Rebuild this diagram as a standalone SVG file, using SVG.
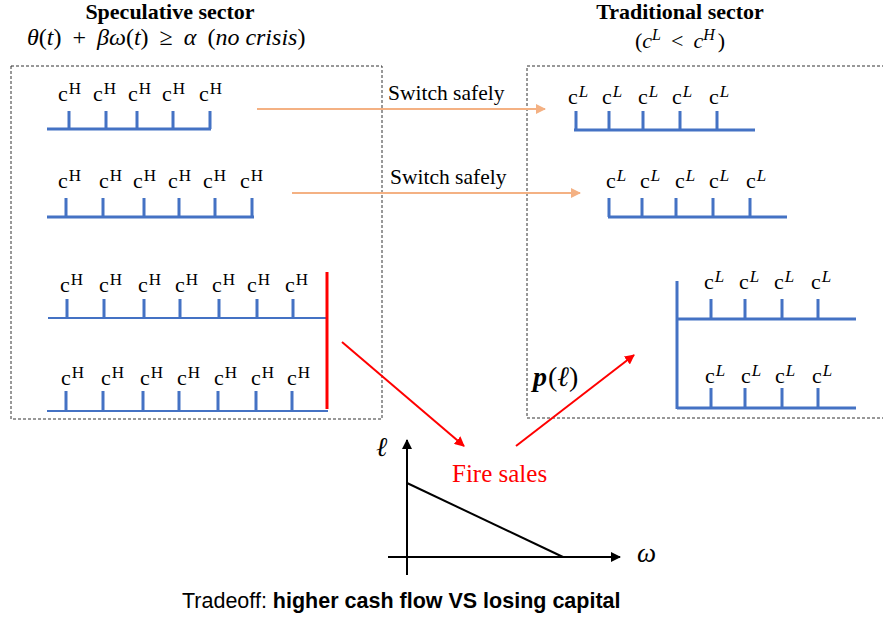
<svg xmlns="http://www.w3.org/2000/svg" width="883" height="625" viewBox="0 0 883 625">
<style>
.box{fill:none;stroke:#333;stroke-width:1;stroke-dasharray:3 2}
.blue{stroke:#4472C4;stroke-width:3;fill:none}
.lbl{font-family:"Liberation Serif",serif;font-size:22px;fill:#000}
.sup{font-size:17px}
.title{font-family:"Liberation Serif",serif;font-size:22px;font-weight:bold;fill:#000;text-anchor:middle}
.math{font-family:"Liberation Serif",serif;font-size:25px;fill:#000}
.sw{font-family:"Liberation Serif",serif;font-size:21.5px;fill:#000}
.orange{stroke:#F4B183;stroke-width:2;fill:none}
.red{stroke:#FF0000;stroke-width:2;fill:none}
.axis{stroke:#000;stroke-width:2;fill:none}
</style>
<defs>
<marker id="ao" viewBox="0 0 10 10" refX="9" refY="5" markerWidth="5" markerHeight="5" orient="auto"><path d="M0,0 L10,5 L0,10 z" fill="#F4B183"/></marker>
<marker id="ar" viewBox="0 0 10 10" refX="9" refY="5" markerWidth="5" markerHeight="5" orient="auto"><path d="M0,0 L10,5 L0,10 z" fill="#FF0000"/></marker>
<marker id="ak" viewBox="0 0 10 10" refX="9" refY="5" markerWidth="5" markerHeight="5" orient="auto"><path d="M0,0 L10,5 L0,10 z" fill="#000"/></marker>
</defs>

<g id="titles">
<text class="title" x="170" y="19">Speculative sector</text>
<text class="math" x="27" y="45" style="font-size:24px"><tspan font-style="italic">θ</tspan>(<tspan font-style="italic">t</tspan>)<tspan dx="11">+</tspan><tspan dx="11" font-style="italic">βω</tspan>(<tspan font-style="italic">t</tspan>)<tspan dx="11">≥</tspan><tspan dx="11" font-style="italic">α</tspan><tspan dx="11">(</tspan><tspan font-style="italic">no crisis</tspan>)</text>
<text class="title" x="680" y="19">Traditional sector</text>
<text class="math" x="635" y="48" style="font-size:22px">(<tspan font-style="italic">c</tspan><tspan font-style="italic" font-size="16" dy="-8">L</tspan><tspan dy="8" dx="10">&lt;</tspan><tspan dx="10" font-style="italic">c</tspan><tspan font-style="italic" font-size="16" dy="-8">H</tspan><tspan dy="8" dx="3">)</tspan></text>
</g>

<g id="speculative-box">
<rect class="box" x="11" y="66" width="371" height="353"/>
</g>
<g id="traditional-box">
<path class="box" d="M890,66 H527 V418 H890"/>
</g>

<g id="spec-row1">
<path class="blue" d="M47,129 H211 M69,111 V129 M106,111 V129 M137,111 V129 M173,111 V129 M210,111 V129"/>
<g class="lbl">
<text x="58" y="101">c<tspan class="sup" dy="-7" dx="1">H</tspan></text>
<text x="93" y="101">c<tspan class="sup" dy="-7" dx="1">H</tspan></text>
<text x="128" y="101">c<tspan class="sup" dy="-7" dx="1">H</tspan></text>
<text x="162" y="101">c<tspan class="sup" dy="-7" dx="1">H</tspan></text>
<text x="199" y="101">c<tspan class="sup" dy="-7" dx="1">H</tspan></text>
</g>
</g>

<g id="spec-row2">
<path class="blue" d="M47,217 H254 M66,198 V217 M103,198 V217 M144,198 V217 M179,198 V217 M215,198 V217 M252,198 V217"/>
<g class="lbl">
<text x="58" y="188">c<tspan class="sup" dy="-7" dx="1">H</tspan></text>
<text x="99" y="188">c<tspan class="sup" dy="-7" dx="1">H</tspan></text>
<text x="133" y="188">c<tspan class="sup" dy="-7" dx="1">H</tspan></text>
<text x="168" y="188">c<tspan class="sup" dy="-7" dx="1">H</tspan></text>
<text x="203" y="188">c<tspan class="sup" dy="-7" dx="1">H</tspan></text>
<text x="240" y="188">c<tspan class="sup" dy="-7" dx="1">H</tspan></text>
</g>
</g>

<g id="spec-row3">
<path class="blue" style="stroke-width:2" d="M48,318 H328"/>
<path class="blue" d="M67,299 V318 M104,299 V318 M144,299 V318 M180,299 V318 M219,299 V318 M257,299 V318 M293,299 V318"/>
<g class="lbl">
<text x="60" y="292">c<tspan class="sup" dy="-7" dx="1">H</tspan></text>
<text x="99" y="292">c<tspan class="sup" dy="-7" dx="1">H</tspan></text>
<text x="138" y="292">c<tspan class="sup" dy="-7" dx="1">H</tspan></text>
<text x="175" y="292">c<tspan class="sup" dy="-7" dx="1">H</tspan></text>
<text x="212" y="292">c<tspan class="sup" dy="-7" dx="1">H</tspan></text>
<text x="247" y="292">c<tspan class="sup" dy="-7" dx="1">H</tspan></text>
<text x="285" y="292">c<tspan class="sup" dy="-7" dx="1">H</tspan></text>
</g>
</g>

<g id="spec-row4">
<path class="blue" style="stroke-width:2" d="M47,411 H328"/>
<path class="blue" d="M66,391 V411 M103,391 V411 M143,391 V411 M179,391 V411 M218,391 V411 M256,391 V411 M292,391 V411"/>
<g class="lbl">
<text x="61" y="385">c<tspan class="sup" dy="-7" dx="1">H</tspan></text>
<text x="101" y="385">c<tspan class="sup" dy="-7" dx="1">H</tspan></text>
<text x="140" y="385">c<tspan class="sup" dy="-7" dx="1">H</tspan></text>
<text x="177" y="385">c<tspan class="sup" dy="-7" dx="1">H</tspan></text>
<text x="214" y="385">c<tspan class="sup" dy="-7" dx="1">H</tspan></text>
<text x="251" y="385">c<tspan class="sup" dy="-7" dx="1">H</tspan></text>
<text x="287" y="385">c<tspan class="sup" dy="-7" dx="1">H</tspan></text>
</g>
</g>

<g id="spec-cutoff">
<path d="M327,272 V409" stroke="#FF0000" stroke-width="3"/>
</g>

<g id="trad-row1">
<path class="blue" d="M574,130 H755 M576,111 V130 M609,111 V130 M643,111 V130 M680,111 V130 M717,111 V130"/>
<g class="lbl">
<text x="568" y="104">c<tspan class="sup" dy="-7" dx="1" font-style="italic">L</tspan></text>
<text x="602" y="104">c<tspan class="sup" dy="-7" dx="1" font-style="italic">L</tspan></text>
<text x="638" y="104">c<tspan class="sup" dy="-7" dx="1" font-style="italic">L</tspan></text>
<text x="672" y="104">c<tspan class="sup" dy="-7" dx="1" font-style="italic">L</tspan></text>
<text x="709" y="104">c<tspan class="sup" dy="-7" dx="1" font-style="italic">L</tspan></text>
</g>
</g>

<g id="trad-row2">
<path class="blue" d="M608,217 H787 M609,198 V217 M642,198 V217 M676,198 V217 M713,198 V217 M750,198 V217"/>
<g class="lbl">
<text x="606" y="188">c<tspan class="sup" dy="-7" dx="1" font-style="italic">L</tspan></text>
<text x="640" y="188">c<tspan class="sup" dy="-7" dx="1" font-style="italic">L</tspan></text>
<text x="675" y="188">c<tspan class="sup" dy="-7" dx="1" font-style="italic">L</tspan></text>
<text x="709" y="188">c<tspan class="sup" dy="-7" dx="1" font-style="italic">L</tspan></text>
<text x="746" y="188">c<tspan class="sup" dy="-7" dx="1" font-style="italic">L</tspan></text>
</g>
</g>

<g id="trad-rows34">
<path class="blue" d="M677,281 V409 M677,319 H856 M711,299 V319 M745,299 V319 M782,299 V319 M818,299 V319 M677,408 H856 M711,388 V408 M745,388 V408 M782,388 V408 M818,388 V408"/>
<g class="lbl">
<text x="704" y="289">c<tspan class="sup" dy="-7" dx="1" font-style="italic">L</tspan></text>
<text x="739" y="289">c<tspan class="sup" dy="-7" dx="1" font-style="italic">L</tspan></text>
<text x="774" y="289">c<tspan class="sup" dy="-7" dx="1" font-style="italic">L</tspan></text>
<text x="811" y="289">c<tspan class="sup" dy="-7" dx="1" font-style="italic">L</tspan></text>
<text x="705" y="383">c<tspan class="sup" dy="-7" dx="1" font-style="italic">L</tspan></text>
<text x="741" y="383">c<tspan class="sup" dy="-7" dx="1" font-style="italic">L</tspan></text>
<text x="775" y="383">c<tspan class="sup" dy="-7" dx="1" font-style="italic">L</tspan></text>
<text x="812" y="383">c<tspan class="sup" dy="-7" dx="1" font-style="italic">L</tspan></text>
</g>
</g>

<g id="graph">
<path class="axis" d="M407,575 V440" marker-end="url(#ak)"/>
<path class="axis" d="M388,557 H620" marker-end="url(#ak)"/>
<path class="axis" d="M407,483 L563,557"/>
<text class="math" x="376" y="456" font-style="italic" style="font-size:27px">ℓ</text>
<text class="math" x="637" y="562" font-style="italic" style="font-size:27px">ω</text>
</g>

<g id="connectors">
<path class="orange" d="M257,109 H545" marker-end="url(#ao)"/>
<text class="sw" x="388" y="100">Switch safely</text>
<path class="orange" d="M292,193 H580" marker-end="url(#ao)"/>
<text class="sw" x="390" y="184">Switch safely</text>
<path class="red" d="M342,342 L464,446" marker-end="url(#ar)"/>
<path class="red" d="M516,446 L634,355" marker-end="url(#ar)"/>
<text class="math" x="452" y="482" style="fill:#FF0000;font-size:25px">Fire sales</text>
<text class="math" x="533" y="386" style="font-size:28px"><tspan font-style="italic" font-weight="bold">p</tspan><tspan dx="1">(</tspan><tspan font-style="italic">ℓ</tspan>)</text>
</g>

<g id="caption">
<text x="182" y="608" style="font-family:'Liberation Sans','Noto Sans',sans-serif;font-size:21.5px;fill:#000">Tradeoff: <tspan font-weight="bold">higher cash flow VS losing capital</tspan></text>
</g>
</svg>
